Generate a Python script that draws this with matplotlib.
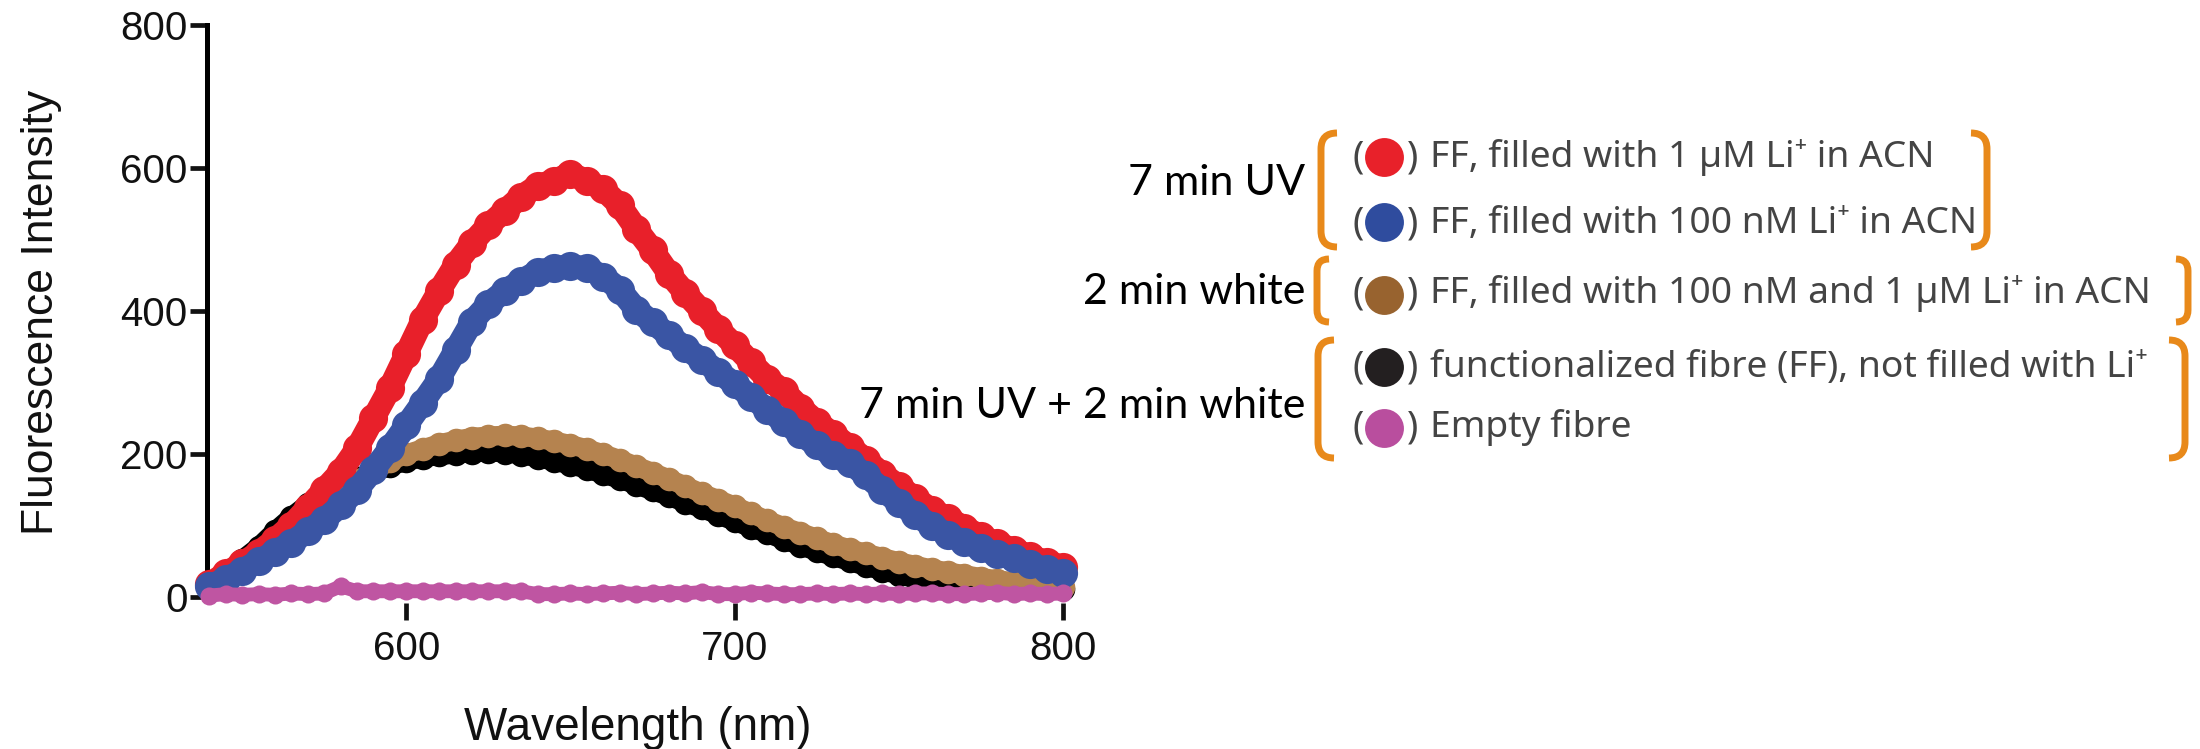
import matplotlib
matplotlib.use("Agg")
import matplotlib.pyplot as plt
from matplotlib.path import Path
from matplotlib.patches import PathPatch

plt.rcParams['font.family'] = ['Liberation Sans', 'DejaVu Sans']

# ---------------- data ----------------
wavelength = [540, 545, 550, 555, 560, 565, 570, 575, 580, 585, 590, 595, 600,
              605, 610, 615, 620, 625, 630, 635, 640, 645, 650, 655, 660, 665,
              670, 675, 680, 685, 690, 695, 700, 705, 710, 715, 720, 725, 730,
              735, 740, 745, 750, 755, 760, 765, 770, 775, 780, 785, 790, 795, 800]

ff_1uM = [18, 33, 47, 62, 80, 100, 125, 150, 175, 208, 250, 292, 340,
          388, 428, 465, 495, 520, 540, 560, 575, 582, 592, 582, 570, 548,
          515, 485, 452, 425, 400, 375, 352, 328, 305, 288, 265, 245, 228,
          210, 192, 172, 155, 138, 122, 110, 97, 85, 75, 66, 57, 49, 42]

ff_100nM = [15, 25, 37, 50, 63, 76, 92, 108, 128, 150, 178, 208, 240,
            272, 305, 345, 385, 410, 428, 442, 455, 460, 463, 460, 448, 430,
            402, 384, 366, 348, 332, 315, 298, 280, 262, 245, 228, 212, 198,
            188, 170, 150, 132, 115, 100, 87, 77, 68, 60, 54, 46, 39, 33]

ff_white = [12, 25, 40, 58, 78, 98, 118, 135, 150, 163, 176, 190, 200,
            207, 214, 219, 223, 225, 226, 225, 222, 218, 213, 207, 200, 192,
            183, 174, 165, 155, 145, 136, 127, 117, 107, 98, 90, 82, 74,
            67, 61, 55, 49, 44, 39, 35, 31, 27, 24, 21, 18, 16, 14]

ff_not_filled = [16, 32, 52, 70, 92, 112, 130, 144, 156, 166, 175, 183, 190,
                 195, 198, 200, 202, 203, 202, 199, 195, 190, 185, 179, 172, 165,
                 157, 149, 141, 132, 124, 115, 106, 97, 89, 80, 72, 64, 57,
                 50, 43, 37, 31, 26, 21, 17, 14, 12, 11, 11, 11, 11, 11]

empty_fibre = [2, 4, 3, 4, 3, 5, 4, 5, 15, 8, 8, 8, 8,
               8, 8, 8, 8, 8, 8, 8, 4, 4, 5, 4, 5, 6,
               4, 5, 6, 5, 7, 4, 4, 6, 5, 4, 4, 5, 4,
               5, 4, 5, 4, 5, 5, 4, 4, 5, 6, 4, 5, 4, 5]

x_ticks = [600, 700, 800]
y_ticks = [0, 200, 400, 600, 800]

group_labels = ["7 min UV", "2 min white", "7 min UV + 2 min white"]
legend_labels = ["FF, filled with 1 \u00b5M Li\u207a in ACN",
                 "FF, filled with 100 nM Li\u207a in ACN",
                 "FF, filled with 100 nM and 1 \u00b5M Li\u207a in ACN",
                 "functionalized fibre (FF), not filled with Li\u207a",
                 "Empty fibre"]

# ---------------- figure ----------------
W, H = 2200, 749
fig = plt.figure(figsize=(W / 100, H / 100), dpi=100)


def fx(px):
    return px / W


def fy(py):
    return 1 - py / H


ax = fig.add_axes([fx(207), fy(597), fx(1063) - fx(207), fy(25) - fy(597)])

series = [
    (ff_not_filled, "#000000", 14, 17, 1),
    (ff_white, "#B5834F", 14, 17, 2),
    (ff_1uM, "#E8202A", 17, 21, 3),
    (ff_100nM, "#3A55A4", 17, 21, 4),
    (empty_fibre, "#BF55A2", 10, 13, 5),
]
for vals, col, lw, ms, z in series:
    ax.plot(wavelength, vals, '-o', color=col, lw=lw, ms=ms, mec=col, mew=0,
            solid_joinstyle='round', solid_capstyle='round',
            clip_on=False, zorder=z)

ax.set_xlim(539.3, 800)
ax.set_ylim(0, 800)
ax.set_xticks(x_ticks)
ax.set_yticks(y_ticks)
for s in ['top', 'right']:
    ax.spines[s].set_visible(False)
ax.spines['bottom'].set_position(('outward', 4.5))
ax.spines['bottom'].set_visible(False)
ax.spines['left'].set_linewidth(3.6)
ax.tick_params(axis='x', direction='out', length=12, width=3.4, pad=7,
               labelsize=29, colors='#111111')
ax.tick_params(axis='y', direction='out', length=12, width=3.4, pad=2,
               labelsize=29, colors='#111111')
ax.set_xlabel("Wavelength (nm)", fontsize=33, color='#111111')
ax.xaxis.set_label_coords(0.5035, -0.19)
fig.text(fx(42), fy(312), "Fluorescence Intensity", rotation=90,
         ha='center', va='center', fontsize=32, color='#111111')

# ---------------- annotation legend (pixel coordinates overlay) ----------------
ov = fig.add_axes([0, 0, 1, 1], zorder=10)
ov.set_xlim(0, W)
ov.set_ylim(H, 0)
ov.axis('off')
ov.patch.set_alpha(0)

orange = "#E8891A"


def bracket(x, y0, y1, side, d=16, r=16):
    verts = [(x + side * d, y0), (x, y0), (x, y0 + r),
             (x, y1 - r), (x, y1), (x + side * d, y1)]
    codes = [Path.MOVETO, Path.CURVE3, Path.CURVE3,
             Path.LINETO, Path.CURVE3, Path.CURVE3]
    ov.add_patch(PathPatch(Path(verts, codes), fill=False, ec=orange,
                           lw=5, capstyle='butt'))


# group brackets
bracket(1321, 133, 247, +1)
bracket(1987, 133, 247, -1)
bracket(1317, 259, 322, +1, d=12, r=12)
bracket(2188, 259, 322, -1, d=12, r=12)
bracket(1318, 340, 458, +1)
bracket(2185, 340, 458, -1)

group_font = ['Lato', 'DejaVu Sans']
group_baselines = [195, 304, 418]
for lab, yb in zip(group_labels, group_baselines):
    ov.text(1305, yb, lab, ha='right', va='baseline', fontsize=31,
            family=group_font, color='black')

legend_colors = ["#E8212A", "#2F4C9E", "#98632F", "#231F20", "#B94E9E"]
marker_y = [157, 222, 295, 367, 428]
text_baselines = [167, 233, 303, 377, 437]
entry_font = ['Noto Sans', 'DejaVu Sans']
gray = "#444444"
for lab, col, my, yb in zip(legend_labels, legend_colors, marker_y, text_baselines):
    ov.plot([1384], [my], 'o', ms=28, color=col, mec=col, mew=0)
    ov.text(1358, yb, "(", ha='center', va='baseline', fontsize=27,
            family=entry_font, color=gray)
    ov.text(1413, yb, ")", ha='center', va='baseline', fontsize=27,
            family=entry_font, color=gray)
    ov.text(1430, yb, lab, ha='left', va='baseline', fontsize=26.8,
            family=entry_font, color=gray)

fig.savefig("out.png", dpi=100)
